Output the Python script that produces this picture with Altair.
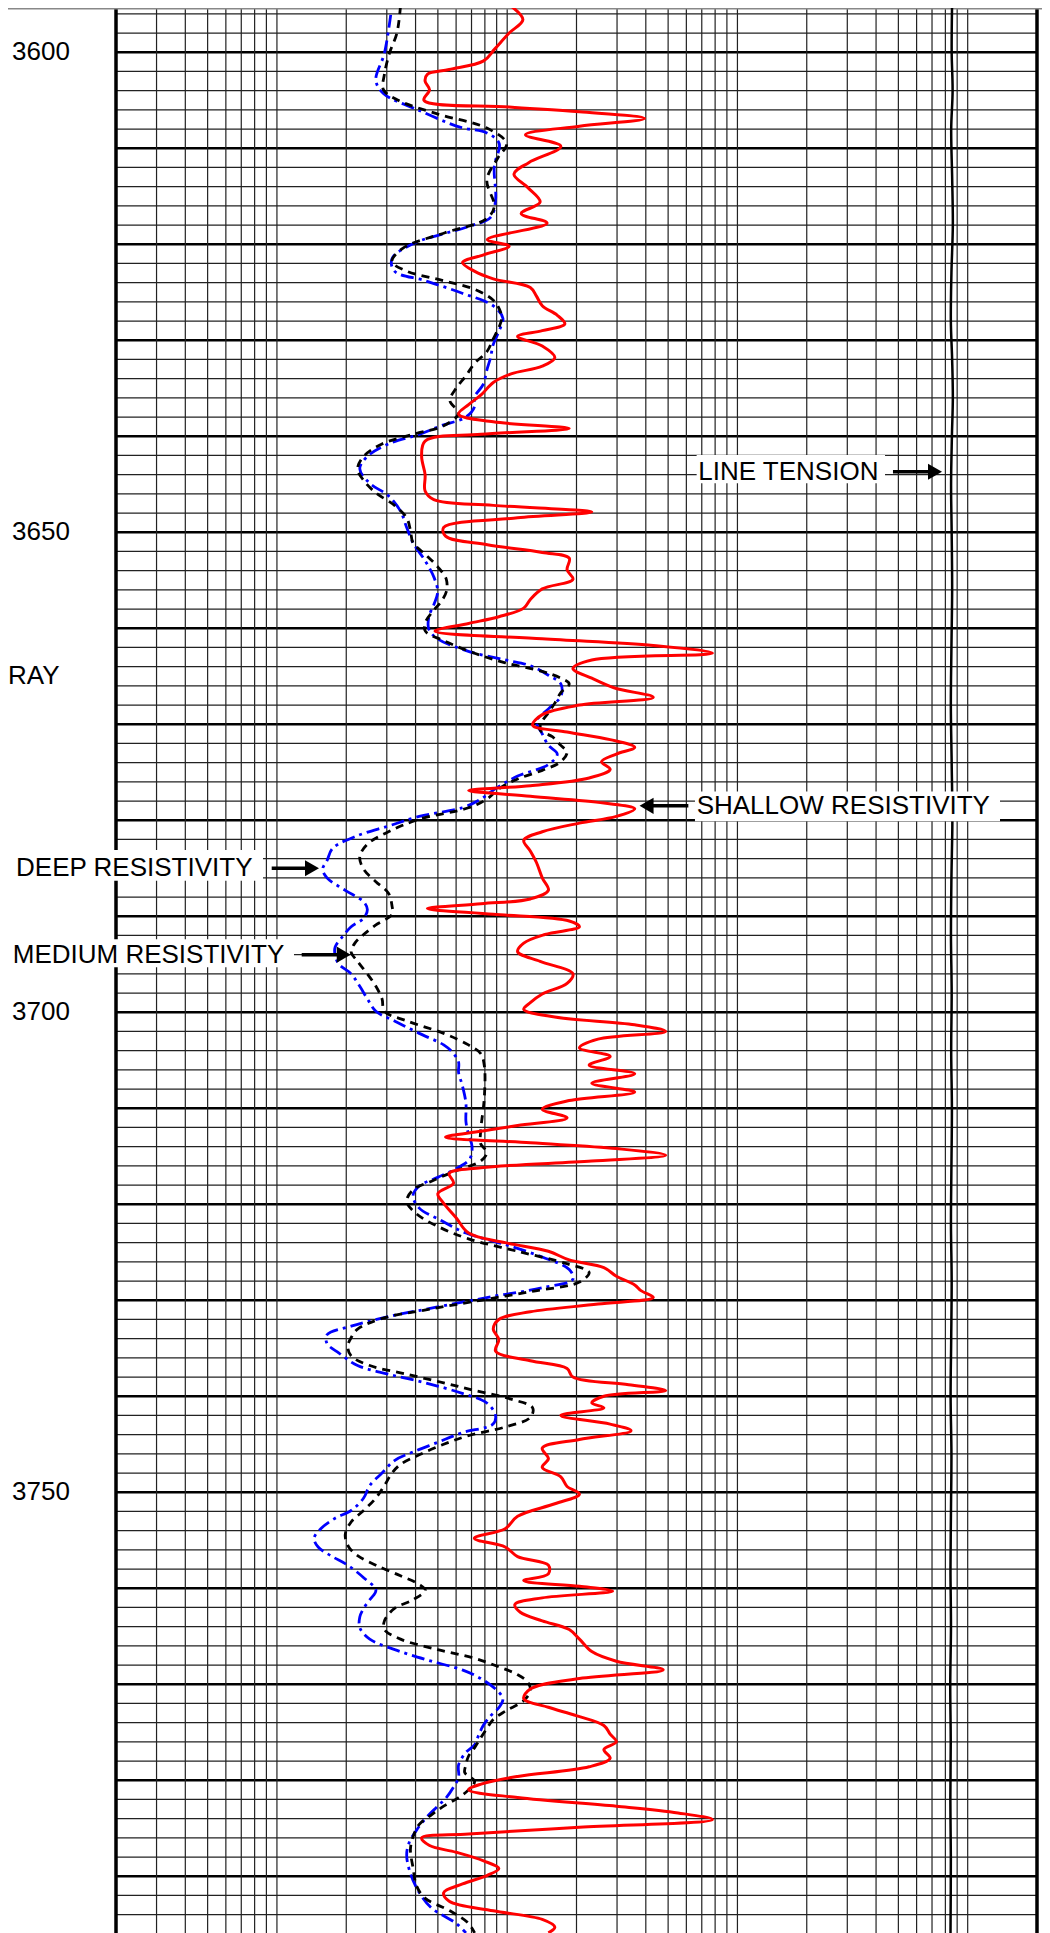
import altair as alt
import pandas as pd

# ---------------- data (depth in ft, resistivity in ohm-m) ----------------
shallow_depth = [3595.2, 3596.6, 3598.0, 3599.7, 3600.9, 3601.8, 3602.3, 3603.0, 3603.9, 3605.0,
                 3605.7, 3606.2, 3606.9, 3607.7, 3608.6, 3609.8, 3611.5, 3612.7, 3614.1, 3615.6,
                 3616.8, 3617.8, 3619.5, 3620.2, 3621.1, 3621.9, 3622.8, 3623.6, 3624.5, 3625.4,
                 3626.4, 3627.4, 3628.3, 3629.0, 3629.6, 3630.6, 3631.8, 3632.7, 3633.5, 3634.4,
                 3635.7, 3636.7, 3637.7, 3638.5, 3639.2, 3639.8, 3640.5, 3642.1, 3644.0, 3645.7,
                 3646.6, 3647.2, 3647.9, 3648.5, 3649.5, 3650.4, 3651.3, 3652.1, 3652.7, 3653.9,
                 3654.9, 3655.9, 3657.0, 3657.9, 3658.8, 3659.5, 3660.3, 3661.1, 3661.8, 3662.6,
                 3663.3, 3664.2, 3665.2, 3666.2, 3667.2, 3668.0, 3669.0, 3670.1, 3670.8, 3671.6,
                 3672.4, 3673.1, 3673.9, 3674.7, 3675.6, 3676.4, 3676.9, 3677.5, 3678.2, 3678.8,
                 3679.6, 3680.3, 3681.2, 3682.1, 3683.2, 3684.4, 3686.0, 3687.3, 3688.2, 3688.7,
                 3689.2, 3689.8, 3690.5, 3691.1, 3691.9, 3692.8, 3693.7, 3694.7, 3696.0, 3697.0,
                 3698.1, 3699.0, 3699.7, 3700.5, 3701.3, 3702.0, 3702.8, 3703.7, 3704.6, 3705.5,
                 3706.4, 3707.4, 3708.3, 3709.2, 3710.1, 3711.0, 3711.8, 3712.4, 3713.0, 3713.6,
                 3714.2, 3714.9, 3715.5, 3716.2, 3716.8, 3717.8, 3718.9, 3719.9, 3721.4, 3723.0,
                 3724.0, 3724.9, 3725.8, 3726.6, 3727.5, 3728.4, 3729.0, 3729.7, 3730.4, 3731.2,
                 3732.0, 3733.0, 3734.1, 3735.3, 3736.3, 3737.1, 3738.0, 3738.8, 3739.4, 3740.0,
                 3740.7, 3741.2, 3742.0, 3742.9, 3743.6, 3744.5, 3745.4, 3746.5, 3747.4, 3748.4,
                 3749.4, 3750.2, 3751.2, 3752.5, 3753.8, 3754.8, 3755.7, 3756.7, 3757.6, 3758.5,
                 3759.2, 3759.8, 3760.3, 3761.0, 3761.7, 3762.5, 3763.4, 3764.3, 3765.3, 3766.6,
                 3767.6, 3768.5, 3769.4, 3770.5, 3771.5, 3772.4, 3773.3, 3774.3, 3775.2, 3776.0,
                 3776.8, 3777.7, 3778.6, 3779.6, 3780.4, 3781.0, 3781.8, 3782.7, 3783.4, 3784.1,
                 3784.9, 3785.6, 3786.0, 3786.8, 3787.5, 3788.4, 3789.2, 3789.9, 3790.8, 3791.7,
                 3792.6, 3793.6, 3794.5, 3795.3, 3795.9]
shallow_res = [104, 117, 102, 88, 79, 56, 45, 44, 46, 43.5,
               102, 206, 395, 206, 120, 171, 124, 107, 123, 139,
               115, 149, 82, 102, 79, 64, 72, 87, 126, 134,
               142, 165, 178, 142, 111, 142, 161, 142, 104, 87,
               77, 68, 61.5, 87, 186, 77, 44, 42.5, 44, 44,
               48, 87, 233, 111, 53, 54, 82, 142, 186, 182,
               193, 142, 126, 118, 92, 68, 48.6, 142, 431, 779,
               233, 193, 233, 291, 431, 206, 142, 129, 182, 280,
               358, 298, 257, 280, 227, 126, 68, 126, 263, 358,
               298, 206, 142, 118, 126, 134, 142, 151, 126, 77,
               45, 87, 186, 206, 146, 118, 111, 139, 193, 182,
               142, 126, 118, 161, 358, 488, 248, 206, 280, 227,
               358, 233, 358, 186, 142, 182, 111, 77, 54, 126,
               298, 488, 233, 77, 56, 58.5, 50, 53, 60, 68,
               98, 151, 186, 263, 298, 358, 381, 431, 248, 126,
               92, 87, 92, 89, 126, 182, 193, 337, 488, 263,
               233, 263, 171, 280, 345, 206, 142, 151, 142, 171,
               182, 206, 161, 111, 98, 72, 98, 111, 151, 151,
               118, 206, 287, 142, 108, 114, 142, 186, 206, 233,
               298, 476, 206, 126, 118, 151, 201, 263, 280, 298,
               263, 280, 227, 111, 77, 68, 111, 298, 552, 779,
               206, 68, 42.5, 46, 60, 79, 92, 82, 64, 53,
               56, 87, 142, 161, 151]

medium_depth = [3595.2, 3598.0, 3600.1, 3602.3, 3603.9, 3605.0, 3606.4, 3607.9, 3609.5, 3611.0,
                3613.3, 3616.1, 3617.4, 3618.8, 3620.4, 3621.8, 3622.8, 3623.8, 3624.7, 3625.8,
                3626.7, 3627.7, 3628.6, 3629.9, 3631.2, 3632.4, 3633.7, 3635.0, 3636.3, 3637.6,
                3638.9, 3639.8, 3640.8, 3642.1, 3643.4, 3644.6, 3645.9, 3647.2, 3648.5, 3649.8,
                3651.1, 3652.3, 3653.6, 3654.9, 3656.2, 3657.2, 3658.1, 3659.4, 3660.3, 3661.3,
                3662.6, 3663.6, 3664.5, 3665.2, 3665.8, 3666.7, 3667.8, 3668.8, 3669.7, 3670.6,
                3671.3, 3672.2, 3672.9, 3673.9, 3674.8, 3675.7, 3676.7, 3677.8, 3678.7, 3679.9,
                3681.2, 3682.5, 3683.8, 3685.1, 3686.4, 3687.6, 3688.9, 3689.8, 3690.9, 3691.9,
                3692.8, 3693.7, 3694.7, 3696.0, 3697.3, 3698.6, 3699.9, 3700.9, 3702.2, 3703.4,
                3704.3, 3705.6, 3708.8, 3712.4, 3713.7, 3714.6, 3715.5, 3716.5, 3717.6, 3718.5,
                3719.7, 3721.0, 3722.3, 3723.6, 3724.9, 3726.2, 3727.1, 3728.1, 3729.1, 3730.0,
                3730.9, 3731.9, 3733.0, 3733.9, 3734.8, 3735.8, 3736.8, 3737.7, 3738.6, 3739.4,
                3740.3, 3741.2, 3742.2, 3743.2, 3744.1, 3745.0, 3746.1, 3747.1, 3748.0, 3749.3,
                3750.6, 3751.9, 3753.1, 3754.4, 3755.7, 3756.6, 3757.6, 3758.7, 3759.6, 3760.2,
                3761.2, 3762.1, 3763.4, 3764.3, 3765.3, 3766.4, 3767.3, 3768.2, 3769.0, 3769.8,
                3770.7, 3771.7, 3772.8, 3773.7, 3774.6, 3775.6, 3776.6, 3777.5, 3778.4, 3779.2,
                3780.1, 3781.0, 3781.8, 3782.7, 3783.6, 3784.6, 3785.9, 3787.2, 3789.1, 3791.0,
                3792.3, 3793.6, 3794.9, 3795.9]
medium_res = [34.4, 33.2, 30.8, 29.3, 29.0, 33.6, 49.3, 81.6, 99.4, 91.2,
              81.6, 87.9, 80.6, 53.7, 35.3, 31.6, 36.6, 53.0, 72.2, 86.8,
              92.3, 94.6, 92.3, 86.8, 81.6, 72.2, 66.2, 60.0, 56.4, 61.5,
              53.0, 39.0, 28.6, 23.8, 22.4, 23.8, 26.9, 32.4, 36.6, 38.0,
              39.0, 44.1, 49.9, 54.4, 54.4, 51.7, 48.1, 44.1, 44.1, 53.0,
              72.2, 98.2, 142, 171, 186, 171, 161, 151, 142, 139,
              157, 171, 182, 171, 142, 111, 92.3, 81.6, 67.9, 41.5,
              30.5, 24.7, 22.9, 23.8, 26.9, 30.5, 31.6, 31.6, 26.9, 23.8,
              21.8, 21.0, 22.4, 24.7, 26.9, 28.6, 29.3, 36.6, 53.0, 67.9,
              76.7, 79.6, 79.6, 76.7, 76.7, 81.6, 76.7, 60.0, 46.9, 39.0,
              36.6, 40.4, 49.9, 67.9, 111, 182, 227, 206, 126, 76.7,
              46.9, 28.6, 22.4, 21.0, 20.3, 21.0, 25.3, 36.6, 53.0, 72.2,
              104, 129, 126, 98.2, 67.9, 53.0, 41.5, 34.4, 31.6, 29.3,
              26.9, 23.8, 21.0, 19.8, 20.5, 22.4, 26.9, 34.4, 41.5, 44.1,
              39.0, 32.4, 29.3, 29.3, 34.4, 49.9, 72.2, 92.3, 111, 123,
              126, 118, 98.2, 86.8, 81.6, 76.7, 72.2, 67.9, 66.2, 65.4,
              72.2, 67.9, 61.5, 53.0, 46.9, 41.5, 39.0, 38.0, 39.0, 40.4,
              44.1, 56.4, 67.9, 72.2]

deep_depth = [3596.1, 3600.1, 3602.9, 3604.3, 3606.0, 3607.8, 3608.4, 3609.5, 3611.9, 3615.4,
              3617.2, 3618.2, 3619.9, 3621.5, 3622.8, 3623.8, 3625.1, 3626.4, 3627.7, 3629.0,
              3630.5, 3631.8, 3633.1, 3634.6, 3635.9, 3636.9, 3638.0, 3638.9, 3639.8, 3640.8,
              3642.1, 3643.4, 3644.9, 3646.2, 3647.8, 3649.5, 3651.1, 3653.0, 3654.7, 3656.2,
              3657.5, 3658.8, 3660.1, 3661.1, 3662.4, 3663.3, 3663.9, 3664.9, 3665.8, 3667.1,
              3668.4, 3669.7, 3671.0, 3672.2, 3673.1, 3674.2, 3675.4, 3676.7, 3677.8, 3678.7,
              3679.6, 3680.6, 3681.6, 3682.9, 3684.2, 3685.1, 3686.0, 3687.3, 3688.5, 3689.3,
              3690.2, 3691.1, 3692.1, 3693.2, 3694.1, 3695.0, 3696.0, 3697.3, 3698.6, 3699.9,
              3700.9, 3702.2, 3703.4, 3704.3, 3705.2, 3706.3, 3707.6, 3709.5, 3711.4, 3712.7,
              3714.0, 3715.3, 3716.3, 3717.2, 3718.1, 3719.1, 3720.4, 3721.7, 3723.0, 3724.2,
              3725.5, 3726.8, 3727.8, 3728.7, 3729.6, 3730.7, 3731.7, 3732.7, 3733.6, 3734.5,
              3735.5, 3736.8, 3737.7, 3738.6, 3739.7, 3740.7, 3742.0, 3742.9, 3743.8, 3744.8,
              3745.8, 3746.7, 3748.0, 3749.3, 3750.6, 3751.9, 3752.7, 3753.8, 3754.8, 3755.7,
              3756.6, 3757.6, 3758.9, 3760.2, 3761.2, 3762.1, 3763.0, 3764.1, 3765.3, 3766.6,
              3767.6, 3768.5, 3769.4, 3770.5, 3771.5, 3772.4, 3773.3, 3774.3, 3775.4, 3776.3,
              3777.1, 3778.4, 3779.7, 3780.7, 3781.8, 3782.7, 3784.0, 3785.2, 3786.5, 3787.8,
              3789.7, 3791.7, 3793.3, 3794.9, 3795.9]
deep_res = [31.2, 29.3, 26.9, 29.0, 40.9, 62.3, 81.6, 92.3, 87.9, 89.0,
            84.7, 67.0, 39.4, 31.6, 32.4, 44.1, 63.8, 86.8, 95.8, 92.3,
            86.8, 84.7, 81.6, 78.7, 72.2, 72.2, 66.2, 51.7, 41.5, 30.5,
            24.7, 22.9, 25.3, 30.5, 34.4, 36.6, 39.0, 44.1, 48.1, 49.9,
            48.1, 45.7, 45.7, 49.9, 67.9, 98.2, 126, 151, 171, 171,
            151, 134, 142, 151, 165, 151, 111, 89.0, 76.7, 63.8,
            41.5, 30.5, 22.4, 17.5, 16.5, 15.8, 16.5, 19.8, 23.8, 24.7,
            23.8, 21.0, 19.3, 17.9, 17.9, 18.6, 21.0, 22.9, 24.7, 26.9,
            32.4, 41.5, 53.0, 58.5, 61.5, 61.5, 63.8, 66.2, 66.2, 67.9,
            70.4, 68.7, 60.0, 49.9, 41.5, 39.0, 41.5, 51.7, 66.2, 98.2,
            142, 186, 193, 142, 86.8, 49.9, 30.5, 21.0, 16.5, 16.5,
            18.6, 22.4, 30.5, 44.1, 63.8, 81.6, 89.0, 86.8, 63.8, 49.9,
            39.0, 32.4, 28.6, 25.3, 23.8, 21.0, 17.9, 15.5, 14.5, 15.1,
            17.1, 20.3, 23.8, 26.9, 25.3, 23.8, 22.9, 22.9, 25.3, 34.4,
            46.9, 63.8, 76.7, 89.0, 95.8, 92.3, 84.7, 78.7, 74.9, 72.2,
            66.2, 61.5, 61.5, 58.5, 54.4, 49.9, 44.1, 40.4, 37.5, 36.6,
            38.0, 41.5, 46.9, 60.0, 66.2]

tension_depth = [3595.4, 3600, 3604, 3608, 3613, 3618, 3623, 3628, 3632, 3636,
                 3640, 3645, 3650, 3656, 3662, 3668, 3674, 3680, 3686, 3692,
                 3698, 3704, 3710, 3716, 3722, 3728, 3734, 3740, 3746, 3752,
                 3758, 3764, 3770, 3776, 3782, 3788, 3796]
tension_val = [8550, 8520, 8600, 8480, 8560, 8620, 8500, 8450, 8560, 8620,
               8540, 8470, 8520, 8560, 8500, 8450, 8520, 8580, 8500, 8460,
               8520, 8480, 8540, 8500, 8460, 8520, 8480, 8430, 8500, 8460,
               8420, 8460, 8400, 8440, 8410, 8450, 8420]

# grid / labels
depth_ticks = [3600, 3650, 3700, 3750]
h_minor = [d for d in range(3596, 3796, 2) if d % 10 != 0]
h_major = list(range(3600, 3796, 10))
v_grid = [3, 4, 5, 6, 7, 8, 9, 10, 20, 30, 40, 50, 60, 70, 80, 90, 100,
          200, 300, 400, 500, 600, 700, 800, 900, 1000,
          2000, 3000, 4000, 5000, 6000, 7000, 8000, 9000, 10000]
x_edges = [2, 20000]

ann_label = ["LINE TENSION", "SHALLOW RESISTIVITY", "DEEP RESISTIVITY", "MEDIUM RESISTIVITY"]
ann_depth = [3643.7, 3678.5, 3685.0, 3694.0]
ann_text_x = [676, 665, 0.736, 0.712]
ann_box_x1 = [665, 654, 0.714, 0.693]
ann_box_x2 = [4375, 13816, 8.70, 11.86]
ann_box_top = [3641.95, 3677.0, 3683.1, 3692.4]
ann_box_bot = [3644.9, 3680.1, 3686.3, 3695.3]
ann_shaft_x1 = [4737, 417, 9.49, 12.81]
ann_shaft_x2 = [6860, 612, 13.9, 19.2]
ann_head_x = [7212, 403, 14.2, 19.5]
ann_head_shape = ["triangle-right", "triangle-left", "triangle-right", "triangle-right"]

TOP = 3595.39
W, H = 921, 1925
BOTTOM = TOP + H / 9.6
FONT = "Liberation Sans"

xs = alt.Scale(type="log", domain=[2, 20000], nice=False)
ys = alt.Scale(domain=[TOP, BOTTOM], reverse=True, nice=False, zero=False)


def X(f):
    return alt.X(f, type="quantitative", scale=xs, axis=None)


def Y(f):
    return alt.Y(f, type="quantitative", scale=ys, axis=None)


hminor = alt.Chart(pd.DataFrame({"depth": h_minor})).mark_rule(
    color="#222222", strokeWidth=1.2).encode(y=Y("depth"))
hmajor = alt.Chart(pd.DataFrame({"depth": h_major})).mark_rule(
    color="#000000", strokeWidth=2.4).encode(y=Y("depth"))
vgrid = alt.Chart(pd.DataFrame({"res": v_grid})).mark_rule(
    color="#222222", strokeWidth=1.2).encode(x=X("res"))
edges = alt.Chart(pd.DataFrame({"res": x_edges})).mark_rule(
    color="#000000", strokeWidth=3.5).encode(x=X("res"))
topline = alt.Chart(pd.DataFrame({"depth": [TOP]})).mark_rule(
    color="#888888", strokeWidth=3).encode(y=Y("depth"), x=alt.value(-108), x2=alt.value(W + 5))


def curve(depth, res, **kw):
    df = pd.DataFrame({"depth": depth, "res": res})
    return alt.Chart(df).mark_line(interpolate="catmull-rom", clip=True, **kw).encode(
        x=X("res"), y=Y("depth"), order=alt.Order("depth:Q"))


deep = curve(deep_depth, deep_res, color="#0000ff", strokeWidth=2.8, strokeDash=[13, 5, 3, 5])
medium = curve(medium_depth, medium_res, color="#000000", strokeWidth=2.8, strokeDash=[8, 6])
shallow = curve(shallow_depth, shallow_res, color="#ff0000", strokeWidth=3)
tension = curve(tension_depth, tension_val, color="#000000", strokeWidth=2.5)

ann = pd.DataFrame({
    "label": ann_label, "depth": ann_depth, "tx": ann_text_x,
    "bx1": ann_box_x1, "bx2": ann_box_x2, "by1": ann_box_top, "by2": ann_box_bot,
    "ax1": ann_shaft_x1, "ax2": ann_shaft_x2, "hx": ann_head_x, "shape": ann_head_shape,
})
boxes = alt.Chart(ann).mark_rect(color="white").encode(
    x=X("bx1"), x2="bx2", y=Y("by1"), y2="by2")
texts = alt.Chart(ann).mark_text(align="left", baseline="middle", fontSize=26, font=FONT,
                                 color="black").encode(x=X("tx"), y=Y("depth"), text="label:N")
shafts = alt.Chart(ann).mark_rule(color="black", strokeWidth=3.5).encode(
    x=X("ax1"), x2="ax2", y=Y("depth"))
heads = alt.Chart(ann).mark_point(filled=True, opacity=1, color="black", size=260).encode(
    x=X("hx"), y=Y("depth"), shape=alt.Shape("shape:N", scale=None))

depth_lbl = alt.Chart(pd.DataFrame({"depth": depth_ticks})).mark_text(
    align="left", baseline="middle", fontSize=26, font=FONT, color="black").encode(
    y=Y("depth"), x=alt.value(-104), text=alt.Text("depth:Q", format="d"))
ray = alt.Chart(pd.DataFrame({"depth": [3665.0], "t": ["RAY"]})).mark_text(
    align="left", baseline="middle", fontSize=26, font=FONT, color="black").encode(
    y=Y("depth"), x=alt.value(-108), text="t:N")

chart = alt.layer(
    hminor, hmajor, vgrid, edges, topline,
    deep, medium, shallow, tension,
    boxes, texts, shafts, heads, depth_lbl, ray,
).properties(
    width=W, height=H,
    autosize=alt.AutoSizeParams(type="none"),
    padding={"left": 108, "top": 0, "right": 5, "bottom": 0},
).configure_view(strokeWidth=0)

chart.save("out.html", embed_options={"renderer": "svg", "actions": False})
